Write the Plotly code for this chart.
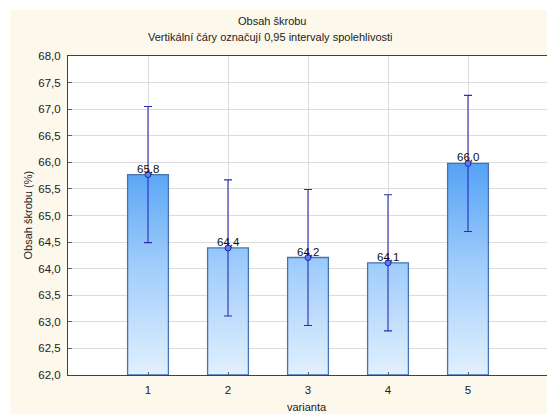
import plotly.graph_objects as go

categories = [1, 2, 3, 4, 5]
means = [65.77, 64.39, 64.21, 64.11, 65.98]
ci_half = [1.28, 1.28, 1.28, 1.28, 1.28]
y_ticks = [62.0, 62.5, 63.0, 63.5, 64.0, 64.5, 65.0, 65.5, 66.0, 66.5, 67.0, 67.5, 68.0]

W, H = 547, 414
L, R, T, B = 68, 0, 56, 39
pw, ph = W - L - R, H - T - B
def px(x):
    return (x - L) / pw
def py(y):
    return (H - B - y) / ph

FONT = "Liberation Sans, Arial, sans-serif"
bar_w = 0.51
y_min = 62.0

fig = go.Figure()

# bars as gradient-filled rectangles built from the data
bx, by = [], []
for c, m in zip(categories, means):
    bx += [c - bar_w / 2, c - bar_w / 2, c + bar_w / 2, c + bar_w / 2, c - bar_w / 2, None]
    by += [y_min, m, m, y_min, y_min, None]
fig.add_trace(go.Scatter(
    x=bx, y=by, mode="lines", fill="toself",
    line=dict(color="#4673AE", width=1.3),
    fillgradient=dict(type="vertical", start=62.0, stop=66.2,
                      colorscale=[[0, "#E2F0FE"], [0.5, "#9ECCFB"], [1, "#4B9DF5"]]),
    hoverinfo="skip", showlegend=False))

# means with confidence intervals
fig.add_trace(go.Scatter(
    x=categories, y=means, mode="markers",
    marker=dict(symbol="circle", size=6, color="#5B7CF2", line=dict(color="#2222C4", width=1)),
    error_y=dict(type="data", array=ci_half, visible=True, color="#2A2AB8", thickness=1.1, width=4),
    showlegend=False))

for c, m in zip(categories, means):
    fig.add_annotation(x=c, y=m, text=f"{m:.1f}".replace(".", ","), showarrow=False,
                       yanchor="bottom", yshift=-2,
                       font=dict(family=FONT, size=11.5, color="#111111"))

# titles
fig.add_annotation(xref="paper", yref="paper", x=px(272), y=py(21), text="Obsah škrobu",
                   showarrow=False, xanchor="center", yanchor="middle",
                   font=dict(family=FONT, size=11, color="#222222"))
fig.add_annotation(xref="paper", yref="paper", x=px(270), y=py(37),
                   text="Vertikální čáry označují 0,95 intervaly spolehlivosti",
                   showarrow=False, xanchor="center", yanchor="middle",
                   font=dict(family=FONT, size=11, color="#222222"))
fig.add_annotation(xref="paper", yref="paper", x=px(27), y=0.5, text="Obsah škrobu (%)",
                   showarrow=False, textangle=-90, xanchor="center", yanchor="middle",
                   font=dict(family=FONT, size=11, color="#222222"))
fig.add_annotation(xref="paper", yref="paper", x=px(307), y=py(407), text="varianta",
                   showarrow=False, xanchor="center", yanchor="middle",
                   font=dict(family=FONT, size=11, color="#222222"))

# white outer strips (top and left)
fig.add_shape(type="rect", xref="paper", yref="paper", x0=px(-5), x1=px(W + 5), y0=py(10), y1=py(-5),
              fillcolor="white", line=dict(width=0), layer="below")
fig.add_shape(type="rect", xref="paper", yref="paper", x0=px(-5), x1=px(10), y0=py(H + 5), y1=py(-5),
              fillcolor="white", line=dict(width=0), layer="below")

fig.update_layout(
    width=W, height=H,
    margin=dict(l=L, r=R, t=T, b=B, pad=0),
    paper_bgcolor="#FDF8EC", plot_bgcolor="white",
    separators=", ",
    font=dict(family=FONT, size=11, color="#222222"),
    showlegend=False,
)
fig.update_xaxes(
    range=[0, pw / 80], tickmode="array", tickvals=categories, ticktext=[str(c) for c in categories],
    showgrid=True, gridcolor="#DCDCDC", gridwidth=1, zeroline=False,
    showline=True, linecolor="#404040", linewidth=1, mirror=True,
    ticks="inside", ticklen=3, tickcolor="#606060", ticklabelstandoff=4,
    tickfont=dict(family=FONT, size=11.5, color="#222222"),
)
fig.update_yaxes(
    range=[62, 68], tickmode="array", tickvals=y_ticks, tickformat=".1f",
    showgrid=True, gridcolor="#DCDCDC", gridwidth=1, zeroline=False,
    showline=True, linecolor="#404040", linewidth=1, mirror=True,
    ticks="inside", ticklen=4, tickcolor="#606060", ticklabelstandoff=4,
    tickfont=dict(family=FONT, size=11.5, color="#222222"),
)

fig.write_html("out.html")
